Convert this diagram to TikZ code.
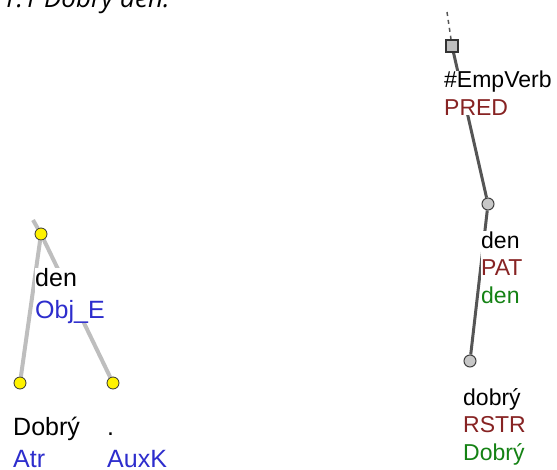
\documentclass[tikz,border=0pt]{standalone}
\usepackage{fontspec}
\setmainfont{Liberation Sans}
\newfontfamily\titlefont{Open Sans}
\usetikzlibrary{positioning}
\pgfdeclarelayer{background}
\pgfsetlayers{background,main}
\definecolor{afun}{RGB}{45,45,205}
\definecolor{functor}{RGB}{135,35,35}
\definecolor{tlemma}{RGB}{20,130,20}
\definecolor{aedge}{RGB}{190,190,190}
\definecolor{tedge}{RGB}{85,85,85}
\begin{document}
\begin{tikzpicture}[x=1pt, y=-1pt,
    anode/.style={circle, draw=black!80, fill=yellow, line width=0.8pt, minimum size=12pt, inner sep=0pt},
    tnode/.style={circle, draw=black!75, fill=black!22, line width=1pt, minimum size=12pt, inner sep=0pt},
    troot/.style={rectangle, draw=black!80, fill=black!25, line width=1.5pt, minimum size=12pt, inner sep=0pt},
    alabel/.style={anchor=base west, align=left, fill=white, inner sep=0pt, font=\fontsize{25}{32}\selectfont},
    tlabel/.style={anchor=base west, align=left, fill=white, inner sep=0pt, font=\fontsize{23}{27.5}\selectfont},
    aline/.style={aedge, line width=4pt},
    tline/.style={tedge, line width=3pt}]
    \useasboundingbox (0,0) rectangle (557,469);

    % title
    \node[anchor=base west, inner sep=0pt, font=\titlefont\itshape\fontsize{26}{30}\selectfont] (title) at (2,7) {1.1 Dobrý den.};

    % analytical tree
    \coordinate (aroot) at (33,220);
    \node[anode] (den) at (41,234) {};
    \node[anode] (dobry) at (20,383) {};
    \node[anode] (tecka) at (113,383) {};
    \node[alabel] (denlab) at (35,318) {den\\\textcolor{afun}{Obj\_E}};
    \node[alabel] (dobrylab) at (13,467) {Dobrý\\\textcolor{afun}{Atr}};
    \node[alabel] (teckalab) at (107,467) {.\\\textcolor{afun}{AuxK}};

    % tectogrammatical tree
    \coordinate (troottop) at (447,12);
    \node[troot] (emp) at (452,46) {};
    \node[tnode] (dent) at (488,204) {};
    \node[tnode] (dobryt) at (470,361) {};
    \node[tlabel] (emplab) at (444,115) {\#EmpVerb\\\textcolor{functor}{PRED}};
    \node[tlabel] (dentlab) at (481,303) {den\\\textcolor{functor}{PAT}\\\textcolor{tlemma}{den}};
    \node[tlabel] (dobrytlab) at (463,460) {dobrý\\\textcolor{functor}{RSTR}\\\textcolor{tlemma}{Dobrý}};

    % edges
    \begin{pgfonlayer}{background}
        \draw[aline] (aroot) -- (den);
        \draw[aline] (den) -- (dobry);
        \draw[aline] (den) -- (tecka);
        \draw[tline, line width=1.5pt, dash pattern=on 4pt off 4pt] (troottop) -- (emp);
        \draw[tline] (emp) -- (dent);
        \draw[tline] (dent) -- (dobryt);
    \end{pgfonlayer}

\end{tikzpicture}
\end{document}
